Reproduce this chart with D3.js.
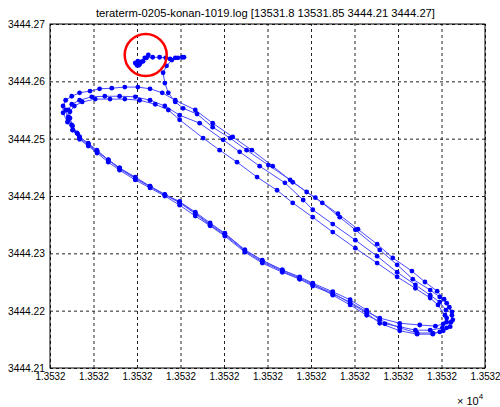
<!DOCTYPE html>
<html>
<head>
<meta charset="utf-8">
<script src="https://cdn.jsdelivr.net/npm/d3@7/dist/d3.min.js"></script>
<style>
  body { margin: 0; background: #fff; }
  svg text { font-family: "Liberation Sans", Arial, sans-serif; font-size: 11px; fill: #000; }
</style>
</head>
<body>
<svg id="chart" width="500" height="407"></svg>
<script>
const titleText = 'teraterm-0205-konan-1019.log [13531.8 13531.85 3444.21 3444.27]';
const xTicks = [13531.800, 13531.805, 13531.810, 13531.815, 13531.820, 13531.825, 13531.830, 13531.835, 13531.840, 13531.845, 13531.850];
const yTicks = [3444.21, 3444.22, 3444.23, 3444.24, 3444.25, 3444.26, 3444.27];

// start blob + lead-in
const tailX = [13531.8100, 13531.8102, 13531.8098, 13531.8100, 13531.8103, 13531.8101, 13531.8105, 13531.8107, 13531.8109, 13531.8113, 13531.8111, 13531.8118, 13531.8126, 13531.8133, 13531.8138, 13531.8144, 13531.8152, 13531.8154, 13531.8147, 13531.8140, 13531.8134, 13531.8130, 13531.8132, 13531.8136, 13531.8144, 13531.8153, 13531.8169];
const tailY = [3444.2632, 3444.2628, 3444.2632, 3444.2628, 3444.2630, 3444.2635, 3444.2634, 3444.2635, 3444.2641, 3444.2646, 3444.2641, 3444.2642, 3444.2642, 3444.2641, 3444.2639, 3444.2641, 3444.2642, 3444.2642, 3444.2641, 3444.2637, 3444.2627, 3444.2615, 3444.2597, 3444.2580, 3444.2564, 3444.2553, 3444.2543];

// laps around the loop
const lap1X = [13531.8187, 13531.8207, 13531.8226, 13531.8251, 13531.8276, 13531.8295, 13531.8313, 13531.8333, 13531.8351, 13531.8379, 13531.8399, 13531.8417, 13531.8437, 13531.8448,
  13531.8456, 13531.8462, 13531.8463, 13531.8460, 13531.8452, 13531.8440,
  13531.8422, 13531.8402, 13531.8379, 13531.8364, 13531.8345, 13531.8325, 13531.8302, 13531.8287, 13531.8267, 13531.8244, 13531.8224, 13531.8201, 13531.8184, 13531.8167, 13531.8149, 13531.8132, 13531.8115, 13531.8098, 13531.8080, 13531.8067, 13531.8054, 13531.8044, 13531.8034,
  13531.8026, 13531.8020, 13531.8015, 13531.8015, 13531.8018, 13531.8025, 13531.8034, 13531.8046, 13531.8057, 13531.8071, 13531.8086, 13531.8101, 13531.8115, 13531.8129, 13531.8144];
const lap1Y = [3444.2520, 3444.2501, 3444.2480, 3444.2454, 3444.2428, 3444.2407, 3444.2388, 3444.2363, 3444.2341, 3444.2306, 3444.2280, 3444.2255, 3444.2236, 3444.2224,
  3444.2213, 3444.2198, 3444.2184, 3444.2172, 3444.2165, 3444.2159,
  3444.2159, 3444.2165, 3444.2178, 3444.2196, 3444.2213, 3444.2231, 3444.2245, 3444.2255, 3444.2269, 3444.2285, 3444.2304, 3444.2332, 3444.2349, 3444.2369, 3444.2388, 3444.2402, 3444.2416, 3444.2431, 3444.2447, 3444.2463, 3444.2477, 3444.2489, 3444.2501,
  3444.2515, 3444.2529, 3444.2545, 3444.2557, 3444.2567, 3444.2574, 3444.2580, 3444.2583, 3444.2587, 3444.2588, 3444.2590, 3444.2590, 3444.2587, 3444.2580, 3444.2567];

const lap2X = [13531.8167, 13531.8187, 13531.8210, 13531.8232, 13531.8256, 13531.8279, 13531.8305, 13531.8331, 13531.8354, 13531.8376, 13531.8394, 13531.8416, 13531.8431, 13531.8445, 13531.8453,
  13531.8459, 13531.8462, 13531.8461, 13531.8456, 13531.8448, 13531.8440,
  13531.8422, 13531.8402, 13531.8379, 13531.8364, 13531.8345, 13531.8325, 13531.8302, 13531.8287, 13531.8267, 13531.8244, 13531.8224, 13531.8201, 13531.8184, 13531.8167, 13531.8149, 13531.8132, 13531.8115, 13531.8098, 13531.8080, 13531.8067, 13531.8054, 13531.8044, 13531.8034,
  13531.8031, 13531.8025, 13531.8021, 13531.8021, 13531.8025, 13531.8034, 13531.8048, 13531.8063, 13531.8080, 13531.8098, 13531.8115, 13531.8132, 13531.8149];
const lap2Y = [3444.2550, 3444.2527, 3444.2503, 3444.2480, 3444.2452, 3444.2424, 3444.2397, 3444.2369, 3444.2342, 3444.2316, 3444.2292, 3444.2269, 3444.2250, 3444.2234, 3444.2220,
  3444.2206, 3444.2192, 3444.2180, 3444.2170, 3444.2163, 3444.2161,
  3444.2161, 3444.2170, 3444.2184, 3444.2201, 3444.2219, 3444.2233, 3444.2248, 3444.2259, 3444.2271, 3444.2288, 3444.2306, 3444.2335, 3444.2353, 3444.2372, 3444.2390, 3444.2403, 3444.2417, 3444.2433, 3444.2449, 3444.2463, 3444.2480, 3444.2492, 3444.2503,
  3444.2510, 3444.2524, 3444.2538, 3444.2550, 3444.2560, 3444.2567, 3444.2573, 3444.2574, 3444.2574, 3444.2573, 3444.2567, 3444.2557, 3444.2541];

const lap3X = [13531.8172, 13531.8199, 13531.8218, 13531.8241, 13531.8270, 13531.8291, 13531.8302, 13531.8325, 13531.8351, 13531.8376, 13531.8399, 13531.8420, 13531.8437,
  13531.8448, 13531.8455, 13531.8456, 13531.8452, 13531.8443, 13531.8425,
  13531.8402, 13531.8379, 13531.8364, 13531.8345, 13531.8325, 13531.8302, 13531.8287, 13531.8267, 13531.8244, 13531.8224, 13531.8201, 13531.8184, 13531.8167, 13531.8149, 13531.8132, 13531.8115, 13531.8098, 13531.8080, 13531.8067, 13531.8054, 13531.8044, 13531.8034,
  13531.8032, 13531.8026, 13531.8023, 13531.8023, 13531.8028, 13531.8037, 13531.8052, 13531.8069, 13531.8086, 13531.8103, 13531.8121, 13531.8136, 13531.8149];
const lap3Y = [3444.2527, 3444.2498, 3444.2477, 3444.2452, 3444.2423, 3444.2393, 3444.2376, 3444.2351, 3444.2323, 3444.2295, 3444.2267, 3444.2245, 3444.2227,
  3444.2215, 3444.2201, 3444.2187, 3444.2177, 3444.2173, 3444.2175,
  3444.2178, 3444.2187, 3444.2198, 3444.2215, 3444.2229, 3444.2243, 3444.2255, 3444.2267, 3444.2283, 3444.2302, 3444.2330, 3444.2348, 3444.2365, 3444.2384, 3444.2400, 3444.2414, 3444.2428, 3444.2445, 3444.2459, 3444.2475, 3444.2487, 3444.2499,
  3444.2508, 3444.2522, 3444.2536, 3444.2547, 3444.2557, 3444.2564, 3444.2569, 3444.2569, 3444.2569, 3444.2567, 3444.2560, 3444.2550, 3444.2533];

const lap4X = [13531.8176, 13531.8195, 13531.8215, 13531.8238, 13531.8261, 13531.8279, 13531.8302, 13531.8325, 13531.8351, 13531.8376, 13531.8399, 13531.8420, 13531.8437,
  13531.8446, 13531.8454, 13531.8456, 13531.8451, 13531.8437, 13531.8420,
  13531.8402, 13531.8385, 13531.8364, 13531.8345, 13531.8325, 13531.8302, 13531.8287, 13531.8267, 13531.8244, 13531.8224, 13531.8201, 13531.8184, 13531.8167, 13531.8149, 13531.8132, 13531.8115, 13531.8098, 13531.8080, 13531.8067, 13531.8054, 13531.8044, 13531.8034, 13531.8026, 13531.8021, 13531.8018];
const lap4Y = [3444.2501, 3444.2480, 3444.2459, 3444.2433, 3444.2410, 3444.2388, 3444.2363, 3444.2337, 3444.2309, 3444.2283, 3444.2259, 3444.2239, 3444.2222,
  3444.2210, 3444.2192, 3444.2180, 3444.2170, 3444.2166, 3444.2166,
  3444.2172, 3444.2177, 3444.2192, 3444.2210, 3444.2227, 3444.2247, 3444.2257, 3444.2271, 3444.2287, 3444.2306, 3444.2334, 3444.2351, 3444.2370, 3444.2390, 3444.2402, 3444.2417, 3444.2431, 3444.2449, 3444.2463, 3444.2478, 3444.2491, 3444.2503, 3444.2515, 3444.2533, 3444.2550];

// red circle marking the start point
const markX = 13531.8110;
const markY = 3444.2646;

const svg = d3.select('#chart');
const margin = { top: 24, right: 15, bottom: 39, left: 50 };
const innerWidth = 500 - margin.left - margin.right;
const innerHeight = 407 - margin.top - margin.bottom;

const xScale = d3.scaleLinear().domain([13531.80, 13531.85]).range([0, innerWidth]);
const yScale = d3.scaleLinear().domain([3444.21, 3444.27]).range([innerHeight, 0]);

const g = svg.append('g').attr('transform', `translate(${margin.left},${margin.top})`);

// dashed grid
const gx = g.append('g')
  .attr('transform', `translate(0,${innerHeight})`)
  .call(d3.axisBottom(xScale).tickValues(xTicks).tickSize(-innerHeight).tickFormat(''));
gx.select('.domain').remove();
gx.selectAll('text').remove();
gx.selectAll('line').attr('stroke', '#222').attr('stroke-dasharray', '3,3');

const gy = g.append('g')
  .call(d3.axisLeft(yScale).tickValues(yTicks).tickSize(-innerWidth).tickFormat(''));
gy.select('.domain').remove();
gy.selectAll('text').remove();
gy.selectAll('line').attr('stroke', '#222').attr('stroke-dasharray', '3,3');

// tick labels
const xAxis = g.append('g')
  .attr('transform', `translate(0,${innerHeight})`)
  .call(d3.axisBottom(xScale).tickValues(xTicks).tickSize(0).tickPadding(4).tickFormat(d => (d / 1e4).toFixed(4)));
xAxis.select('.domain').remove();
xAxis.selectAll('text')
  .attr('fill', '#000').style('font-size', '11px')
  .attr('textLength', 30).attr('lengthAdjust', 'spacingAndGlyphs');

const yAxis = g.append('g')
  .call(d3.axisLeft(yScale).tickValues(yTicks).tickSize(0).tickPadding(5).tickFormat(d3.format('.2f')));
yAxis.select('.domain').remove();
yAxis.selectAll('text')
  .attr('fill', '#000').style('font-size', '11px')
  .attr('textLength', 37).attr('lengthAdjust', 'spacingAndGlyphs');

// box
g.append('rect')
  .attr('width', innerWidth).attr('height', innerHeight)
  .attr('fill', 'none').attr('stroke', '#000').attr('stroke-width', 1);

// trajectory
const allX = tailX.concat(lap1X, lap2X, lap3X, lap4X);
const allY = tailY.concat(lap1Y, lap2Y, lap3Y, lap4Y);
const pts = d3.zip(allX, allY);

const line = d3.line().x(d => xScale(d[0])).y(d => yScale(d[1]));
g.append('path')
  .datum(pts)
  .attr('d', line)
  .attr('fill', 'none')
  .attr('stroke', '#4b4bff')
  .attr('stroke-width', 1);

g.selectAll('circle.pt')
  .data(pts)
  .enter().append('circle')
  .attr('class', 'pt')
  .attr('cx', d => xScale(d[0]))
  .attr('cy', d => yScale(d[1]))
  .attr('r', 2.4)
  .attr('fill', '#0000ff');

g.append('circle')
  .attr('cx', xScale(markX))
  .attr('cy', yScale(markY))
  .attr('r', 21)
  .attr('fill', 'none')
  .attr('stroke', '#ff0000')
  .attr('stroke-width', 2.5);

// title and exponent
svg.append('text')
  .attr('x', 265.5)
  .attr('y', 17)
  .attr('text-anchor', 'middle')
  .attr('textLength', 339).attr('lengthAdjust', 'spacingAndGlyphs')
  .text(titleText);

const expo = svg.append('text').attr('x', 457).attr('y', 405);
expo.append('tspan').text('\u00d7 10');
expo.append('tspan').attr('dy', -6).style('font-size', '8px').text('4');
</script>
</body>
</html>
